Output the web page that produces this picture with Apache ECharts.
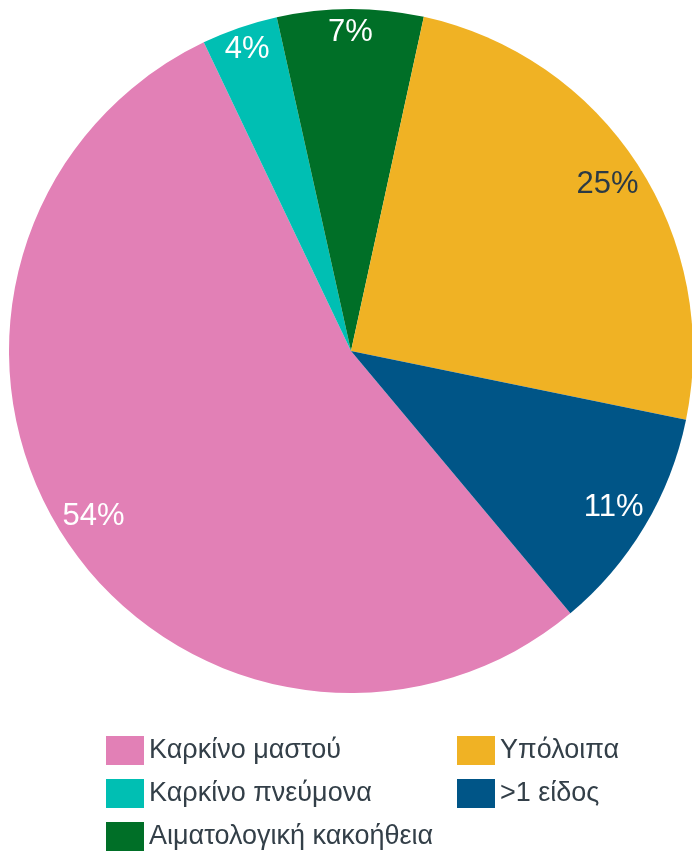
<!DOCTYPE html>
<html>
<head>
<meta charset="utf-8">
<script src="https://cdn.jsdelivr.net/npm/echarts@6/dist/echarts.min.js"></script>
<style>
  html, body { margin: 0; padding: 0; background: #fff; }
  #chart { width: 692px; height: 854px; }
</style>
</head>
<body>
<div id="chart"></div>
<script>
// categories in clockwise order, starting at lower right
var categories = ['Καρκίνο μαστού', 'Καρκίνο πνεύμονα', 'Αιματολογική κακοήθεια', 'Υπόλοιπα', '>1 είδος'];
var values = [54.0, 3.6, 6.9, 24.8, 10.7];
var colors = ['#e280b6', '#00bfb3', '#006f27', '#f0b224', '#005587'];
var labelColors = ['#ffffff', '#ffffff', '#ffffff', '#2b3a45', '#ffffff'];

(function () {
  var chart = echarts.init(document.getElementById('chart'), null, { renderer: 'canvas' });
  var total = values.reduce(function (s, v) { return s + v; }, 0);
  var startAngle = -50.1;
  var center = [351, 351];
  var R = 342;

  var pieData = categories.map(function (name, i) {
    return { name: name, value: values[i], itemStyle: { color: colors[i] } };
  });

  // label ring: small slices get their label pushed a bit further out
  var acc = 0;
  var labelData = categories.map(function (name, i) {
    var mid = startAngle - (acc + values[i] / 2) / total * 360;
    acc += values[i];
    var push = values[i] / total < 0.08 ? 13 : 0;
    var rad = mid * Math.PI / 180;
    return {
      name: name,
      value: values[i],
      itemStyle: { color: 'rgba(0,0,0,0)' },
      label: {
        color: labelColors[i],
        offset: [Math.cos(rad) * push, -Math.sin(rad) * push]
      }
    };
  });

  chart.setOption({
    animation: false,
    color: colors,
    legend: {
      orient: 'vertical',
      left: 106,
      top: 736,
      padding: 0,
      height: 125,
      itemWidth: 38,
      itemHeight: 29,
      itemGap: 14,
      icon: 'rect',
      data: categories,
      textStyle: {
        fontFamily: 'Liberation Sans, Arial, sans-serif',
        fontSize: 27,
        color: '#333f48',
        lineHeight: 29,
        width: 294
      }
    },
    series: [
      {
        type: 'pie',
        center: center,
        radius: [0, R],
        startAngle: startAngle,
        clockwise: true,
        silent: true,
        label: { show: false },
        labelLine: { show: false },
        data: pieData
      },
      {
        type: 'pie',
        center: center,
        radius: [264, R],
        startAngle: startAngle,
        clockwise: true,
        silent: true,
        labelLine: { show: false },
        label: {
          show: true,
          position: 'inside',
          fontFamily: 'Liberation Sans, Arial, sans-serif',
          fontSize: 31,
          formatter: function (p) { return Math.round(p.value / total * 100) + '%'; }
        },
        data: labelData
      }
    ]
  });
})();
</script>
</body>
</html>
